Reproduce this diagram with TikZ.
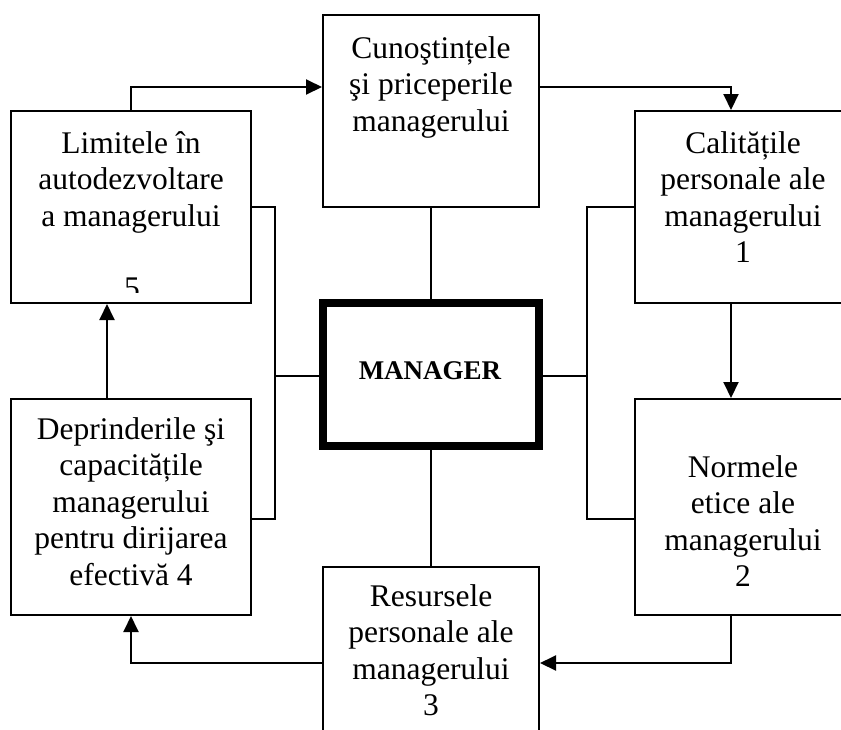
\documentclass[tikz,border=0pt]{standalone}
\usepackage{fontspec}
\setmainfont{Liberation Serif}
\usetikzlibrary{arrows.meta}
\tikzset{
  box/.style={draw, line width=2pt, inner sep=0pt, rectangle},
  mgrbox/.style={draw, line width=7.5pt, inner sep=0pt, rectangle},
  txt/.style={align=center, inner sep=0pt, anchor=north, font=\fontsize{31.5}{36.5}\selectfont},
  wire/.style={line width=2pt},
  arr/.style={line width=2pt, -{Triangle[length=16pt,width=15pt]}},
}
\begin{document}
\begin{tikzpicture}[x=1pt,y=-1pt]
\useasboundingbox (0,0) rectangle (841,729);
\clip (0,0) rectangle (841,729);
% boxes
\node[box, minimum width=216pt, minimum height=192pt] (c) at (431,111) {};
\node[box, minimum width=240pt, minimum height=192pt] (l5) at (131,207) {};
\node[box, minimum width=216pt, minimum height=192pt] (q1) at (743,207) {};
\node[mgrbox, minimum width=216pt, minimum height=143pt] (mgr) at (431,374.5) {};
\node[box, minimum width=216pt, minimum height=216pt] (n2) at (743,507) {};
\node[box, minimum width=240pt, minimum height=216pt] (d4) at (131,507) {};
\node[box, minimum width=216pt, minimum height=192pt] (r3) at (431,663) {};
% texts
\node[txt] (tc) at (431,36) {Cunoştințele\\şi priceperile\\managerului};
\node[txt] (tl5) at (131,131) {Limitele în\\autodezvoltare\\a managerului};
\begin{scope}
\clip (20,250) rectangle (240,292.5);
\node[txt] (t5) at (132,278) {5};
\end{scope}
\node[txt] (tq1) at (743,131) {Calitățile\\personale ale\\managerului\\1};
\node[inner sep=0pt, anchor=north, font=\fontsize{27}{30}\selectfont\bfseries] (tm) at (430,361) {MANAGER};
\node[txt] (tn2) at (743,455) {Normele\\etice ale\\managerului\\2};
\node[txt] (td4) at (131,417) {Deprinderile şi\\capacitățile\\managerului\\pentru dirijarea\\efectivă 4};
\node[txt] (tr3) at (431,584) {Resursele\\personale ale\\managerului\\3};
% helper coordinates
\coordinate (k1) at (131,87);
\coordinate (k2) at (731,87);
\coordinate (k3) at (731,663);
\coordinate (k4) at (131,663);
\coordinate (k5) at (107,0);
\coordinate (bl) at (275,376);
\coordinate (br) at (587,376);
\coordinate (ya) at (0,207);
\coordinate (yb) at (0,519);
% arrows
\draw[arr] (l5.north) -- (k1) -- (c.west |- k1);
\draw[arr] (c.east |- k2) -- (k2) -- (k2 |- q1.north);
\draw[arr] (k2 |- q1.south) -- (k2 |- n2.north);
\draw[arr] (k2 |- n2.south) -- (k3) -- (r3.east |- k3);
\draw[arr] (r3.west |- k4) -- (k4) -- (k4 |- d4.south);
\draw[arr] (k5 |- d4.north) -- (k5 |- l5.south);
% wires
\draw[wire] (l5.east |- ya) -- (bl |- ya) -- (bl |- yb) -- (d4.east |- yb);
\draw[wire] (bl) -- (mgr.west |- bl);
\draw[wire] (q1.west |- ya) -- (br |- ya) -- (br |- yb) -- (n2.west |- yb);
\draw[wire] (br) -- (mgr.east |- br);
\draw[wire] (c.south) -- (mgr.north);
\draw[wire] (mgr.south) -- (r3.north);
\end{tikzpicture}
\end{document}
